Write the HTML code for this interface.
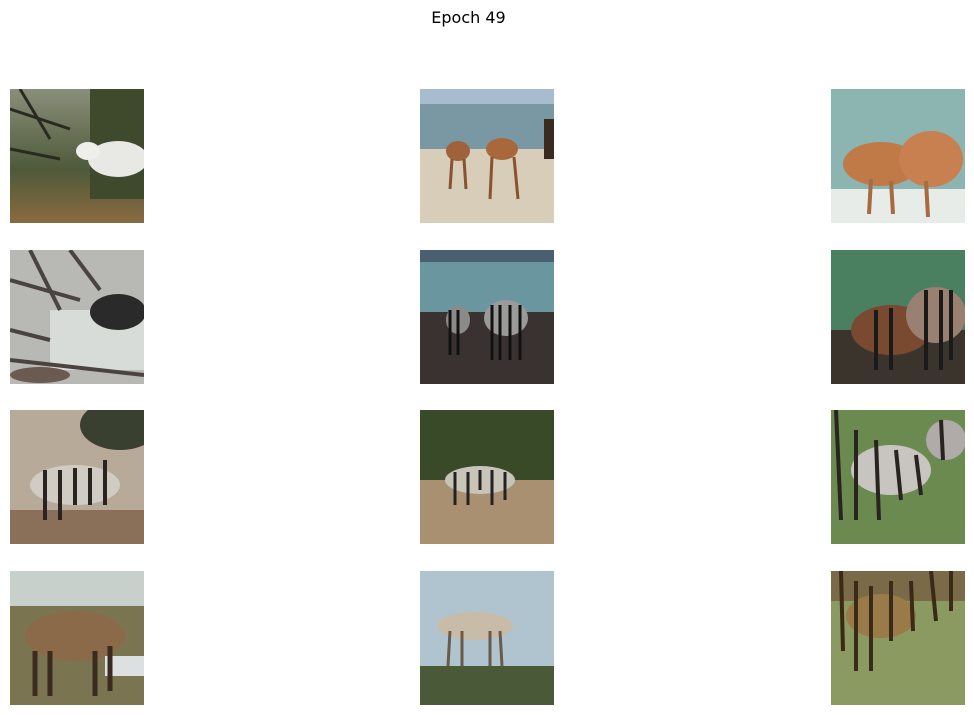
<!DOCTYPE html>
<html><head><meta charset="utf-8"><style>
body{margin:0;width:974px;height:715px;background:#fff;position:relative;overflow:hidden;font-family:"Liberation Sans","DejaVu Sans",sans-serif}
.t{position:absolute;left:0;width:937px;top:8px;text-align:center;font-size:16px;color:#000;font-family:"DejaVu Sans",sans-serif}
svg.im{position:absolute;width:134px;height:134px}
</style></head><body>
<div class="t">Epoch 49</div>

<svg class="im" style="left:10px;top:89px" viewBox="0 0 134 134">
<defs><linearGradient id="g1" x1="0" y1="0" x2="0" y2="1"><stop offset="0" stop-color="#8a8f7a"/><stop offset=".6" stop-color="#4e5a3a"/><stop offset="1" stop-color="#8a6a40"/></linearGradient></defs>
<rect width="134" height="134" fill="url(#g1)"/><rect x="80" y="0" width="54" height="110" fill="#3f4a2c"/>
<ellipse cx="108" cy="70" rx="30" ry="18" fill="#e8e8e4"/><ellipse cx="78" cy="62" rx="12" ry="9" fill="#eeeeea"/>
<path d="M0 20 L60 40 M10 0 L40 50 M0 60 L50 70" stroke="#2a2a20" stroke-width="3"/></svg>

<svg class="im" style="left:420px;top:89px" viewBox="0 0 134 134">
<rect width="134" height="134" fill="#d8cdb8"/><rect width="134" height="15" fill="#a8bcd0"/><rect y="15" width="134" height="45" fill="#7a98a4"/>
<ellipse cx="38" cy="62" rx="12" ry="10" fill="#a0623a"/><ellipse cx="82" cy="60" rx="16" ry="11" fill="#a8683c"/><rect x="124" y="30" width="10" height="40" fill="#3a2a20"/>
<path d="M32 70 L30 100 M44 70 L46 100 M72 68 L70 110 M94 68 L98 110" stroke="#8a5230" stroke-width="3"/></svg>

<svg class="im" style="left:831px;top:89px" viewBox="0 0 134 134">
<rect width="134" height="134" fill="#e8ece8"/><rect width="134" height="100" fill="#8cb4b0"/>
<ellipse cx="50" cy="75" rx="38" ry="22" fill="#c07a48"/><ellipse cx="100" cy="70" rx="32" ry="28" fill="#c88050"/>
<path d="M40 90 L38 125 M60 92 L62 125 M95 92 L97 128" stroke="#a86a40" stroke-width="4"/></svg>

<svg class="im" style="left:10px;top:250px" viewBox="0 0 134 134">
<rect width="134" height="134" fill="#b8b8b4"/><rect x="40" y="60" width="94" height="60" fill="#d8dcd8"/>
<path d="M0 30 L70 50 M20 0 L50 60 M0 80 L40 90 M60 0 L90 40 M0 110 L134 125" stroke="#4a4440" stroke-width="4"/>
<ellipse cx="108" cy="62" rx="28" ry="18" fill="#2a2a2a"/><ellipse cx="30" cy="125" rx="30" ry="8" fill="#6a5a50"/></svg>

<svg class="im" style="left:420px;top:250px" viewBox="0 0 134 134">
<rect width="134" height="134" fill="#3a3230"/><rect width="134" height="12" fill="#4a6070"/><rect y="12" width="134" height="50" fill="#6a96a0"/>
<ellipse cx="38" cy="70" rx="12" ry="14" fill="#8a8a88"/><ellipse cx="86" cy="68" rx="22" ry="18" fill="#9a9a98"/>
<path d="M30 60 L30 105 M38 60 L38 105 M72 55 L72 110 M80 55 L80 110 M90 55 L90 110 M100 55 L100 110" stroke="#111" stroke-width="3"/></svg>

<svg class="im" style="left:831px;top:250px" viewBox="0 0 134 134">
<rect width="134" height="134" fill="#3a342c"/><rect width="134" height="80" fill="#4a8060"/>
<ellipse cx="60" cy="80" rx="40" ry="25" fill="#7a4a30"/><ellipse cx="105" cy="65" rx="30" ry="28" fill="#9a8070"/>
<path d="M45 60 L45 120 M60 58 L60 120 M95 40 L95 120 M110 40 L110 120 M120 40 L120 110" stroke="#1a1a1a" stroke-width="4"/></svg>

<svg class="im" style="left:10px;top:410px" viewBox="0 0 134 134">
<rect width="134" height="134" fill="#b8aa98"/><rect y="100" width="134" height="34" fill="#8a7058"/><ellipse cx="110" cy="15" rx="40" ry="25" fill="#3a4030"/>
<ellipse cx="65" cy="75" rx="45" ry="20" fill="#d0ccc4"/>
<path d="M35 60 L35 110 M50 60 L50 110 M65 58 L65 95 M80 58 L80 95 M95 50 L95 95" stroke="#2a2420" stroke-width="4"/></svg>

<svg class="im" style="left:420px;top:410px" viewBox="0 0 134 134">
<rect width="134" height="134" fill="#a89070"/><rect width="134" height="70" fill="#384a28"/>
<ellipse cx="60" cy="70" rx="35" ry="14" fill="#c8c4b8"/>
<path d="M35 62 L35 95 M48 62 L48 95 M60 60 L60 80 M72 60 L72 95 M85 62 L85 90" stroke="#222" stroke-width="3"/></svg>

<svg class="im" style="left:831px;top:410px" viewBox="0 0 134 134">
<rect width="134" height="134" fill="#6a8a50"/><ellipse cx="60" cy="60" rx="40" ry="25" fill="#c8c4c0"/><ellipse cx="115" cy="30" rx="20" ry="20" fill="#b0aaa8"/>
<path d="M5 0 L10 110 M25 20 L25 110 M45 30 L48 110 M65 40 L70 90 M85 45 L90 85 M110 10 L112 50" stroke="#2a2420" stroke-width="4"/></svg>

<svg class="im" style="left:10px;top:571px" viewBox="0 0 134 134">
<rect width="134" height="134" fill="#7a7450"/><rect width="134" height="35" fill="#c8d0cc"/><rect x="95" y="85" width="39" height="20" fill="#dde0e0"/>
<ellipse cx="65" cy="65" rx="50" ry="25" fill="#8a6a48"/>
<path d="M25 80 L25 125 M40 80 L40 125 M85 80 L85 125 M100 75 L100 120" stroke="#3a2a20" stroke-width="5"/></svg>

<svg class="im" style="left:420px;top:571px" viewBox="0 0 134 134">
<rect width="134" height="134" fill="#b0c4d0"/><rect y="95" width="134" height="39" fill="#4a5a38"/>
<ellipse cx="55" cy="55" rx="38" ry="14" fill="#c8bca8"/>
<path d="M30 60 L28 95 M42 60 L42 95 M70 60 L70 95 M80 60 L82 95" stroke="#6a5a48" stroke-width="3"/></svg>

<svg class="im" style="left:831px;top:571px" viewBox="0 0 134 134">
<rect width="134" height="134" fill="#8a9a60"/><rect width="134" height="30" fill="#7a6a48"/>
<ellipse cx="50" cy="45" rx="35" ry="22" fill="#9a7a48"/>
<path d="M10 0 L12 80 M25 10 L25 100 M40 15 L40 100 M60 10 L60 70 M80 10 L82 60 M100 0 L105 50 M120 0 L120 40" stroke="#3a2a18" stroke-width="4"/></svg>
</body></html>
